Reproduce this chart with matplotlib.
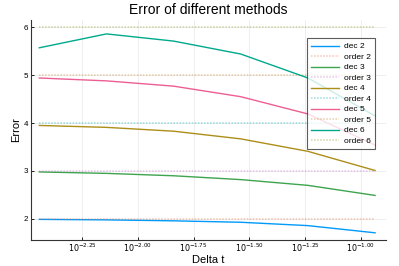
import numpy as np
import matplotlib; matplotlib.use('Agg')
import matplotlib.pyplot as plt
import matplotlib.ticker as mtick

plt.rcParams['font.family'] = ['Liberation Sans', 'DejaVu Sans']

# ── data ──────────────────────────────────────────────────────────────
log_dt = [-2.442, -2.141, -1.840, -1.539, -1.238, -0.937]
dt = [10**v for v in log_dt]
orders = [2, 3, 4, 5, 6]
dec2 = [1.99, 1.98, 1.96, 1.93, 1.86, 1.71]
dec3 = [2.98, 2.95, 2.90, 2.82, 2.70, 2.49]
dec4 = [3.95, 3.91, 3.83, 3.67, 3.41, 3.01]
dec5 = [4.94, 4.88, 4.77, 4.55, 4.19, 3.54]
dec6 = [5.57, 5.86, 5.71, 5.44, 4.94, 4.15]
decs = [dec2, dec3, dec4, dec5, dec6]
xtick_exp = [-2.25, -2.00, -1.75, -1.50, -1.25, -1.00]
yticks = [2, 3, 4, 5, 6]

palette = ['#009AFA', '#E36F47', '#3EA44E', '#C371D2', '#AC8E18',
           '#00AAAE', '#ED5E93', '#C68225', '#00A98D', '#8E971D']

fig = plt.figure(figsize=(3.99, 2.66), dpi=100)
ax = fig.add_axes([31/399, 1 - 240/266, (386-31)/399, (240-20)/266])
ax.set_xscale('log')

for i, (n, d) in enumerate(zip(orders, decs)):
    ax.plot(dt, d, color=palette[2*i], lw=1.0, label=f'dec {n}')
    ax.plot(dt, [n]*len(dt), color=palette[2*i+1], lw=1.1, ls=(0, (1, 1)),
            alpha=0.4, label=f'order {n}')

ax.set_xlim(10**-2.479, 10**-0.888)
ax.set_ylim(1.56, 6.15)
ax.xaxis.set_major_locator(mtick.FixedLocator([10**e for e in xtick_exp]))
ax.xaxis.set_minor_locator(mtick.NullLocator())
ax.xaxis.set_major_formatter(mtick.FixedFormatter(
    [rf'$10^{{{e:.2f}}}$' for e in xtick_exp]))
ax.set_yticks(yticks)
ax.tick_params(labelsize=5.8, length=2, direction='in', width=0.6, pad=2)
ax.tick_params(axis='x', pad=1)
ax.grid(True, color='black', alpha=0.08, lw=0.6)
for s in ['top', 'right']:
    ax.spines[s].set_visible(False)
for s in ['left', 'bottom']:
    ax.spines[s].set_linewidth(0.8)
    ax.spines[s].set_color('#333333')

ax.set_xlabel('Delta t', fontsize=8, labelpad=1)
ax.set_ylabel('Error', fontsize=8, labelpad=2)
ax.set_title('Error of different methods', fontsize=10, pad=4)

leg = ax.legend(loc='upper right', bbox_to_anchor=(0.98, 0.935), fontsize=6,
                frameon=True, fancybox=False, handlelength=3.3,
                labelspacing=0.32, borderpad=0.5, handletextpad=0.6)
leg.get_frame().set_edgecolor('#333333')
leg.get_frame().set_linewidth(0.8)

fig.savefig('out.png', dpi=100)
